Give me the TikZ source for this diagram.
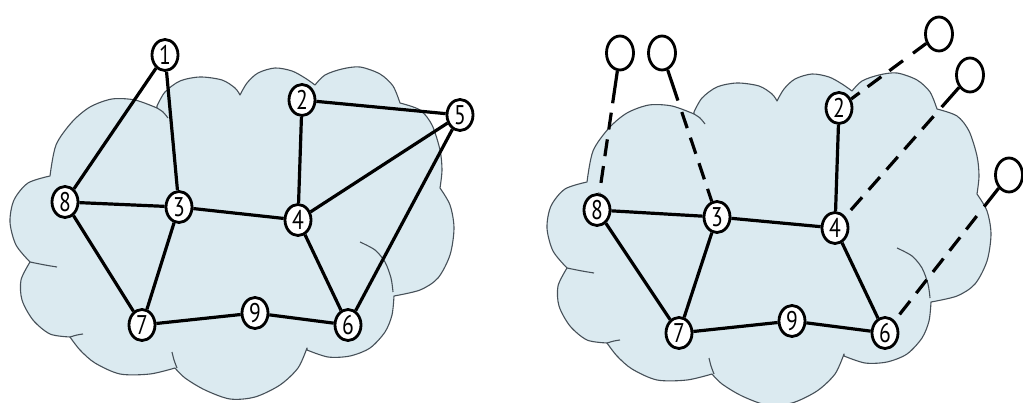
\documentclass[tikz,border=0pt]{standalone}
\usepackage{fontspec}
\newfontfamily\nodefont[FakeStretch=0.8]{PT Sans}
\usetikzlibrary{shapes.geometric,calc}
\definecolor{cloudfill}{RGB}{219,234,240}
\definecolor{cloudline}{RGB}{70,80,88}
\tikzset{
  cloudshape/.style={fill=cloudfill,draw=cloudline,line width=1.1pt,line join=round},
  cloudtail/.style={draw=cloudline,line width=1.1pt},
  vertex/.style={ellipse,draw,line width=2.8pt,fill=white,inner sep=0pt,
    minimum width=26pt,minimum height=31pt,font=\nodefont\fontsize{27}{27}\selectfont},
  host/.style={ellipse,draw,line width=2.8pt,fill=white,inner sep=0pt,
    minimum width=27pt,minimum height=34pt},
  edge/.style={line width=3.2pt},
  dashedge/.style={line width=3.2pt,dash pattern=on 17pt off 10pt}
}
\newcommand\mycloud{%
 \filldraw[cloudshape]
    plot[smooth] coordinates {(50,176) (56,145) (72,122) (90,107) (112,99) (135,100) (157,108)}
 -- plot[smooth] coordinates {(157,106) (165,92) (180,81) (200,77) (222,80) (235,88) (240,95)}
 -- plot[smooth] coordinates {(240,95) (247,83) (258,73) (275,68) (292,71) (305,78) (315,85)}
 -- plot[smooth] coordinates {(315,85) (325,75) (342,69) (360,67) (380,74) (393,86) (400,103)}
 -- plot[smooth] coordinates {(400,103) (420,110) (432,125) (440,150) (442,170) (440,188)}
 -- plot[smooth] coordinates {(440,188) (450,205) (454,228) (450,255) (438,278) (420,290) (394,296)}
 -- plot[smooth] coordinates {(394,296) (392,315) (385,332) (370,348) (350,356) (328,357) (307,350)}
 -- plot[smooth] coordinates {(307,348) (298,368) (280,385) (255,397) (230,399) (205,390) (185,378) (175,368)}
 -- plot[smooth] coordinates {(175,368) (150,374) (120,374) (95,363) (80,350) (70,337)}
 -- plot[smooth] coordinates {(70,337) (50,334) (33,320) (22,300) (21,280) (30,262)}
 -- plot[smooth] coordinates {(30,262) (16,245) (10,222) (14,200) (28,183) (50,176)}
 -- cycle;
 \draw[cloudtail] plot[smooth] coordinates {(157,108) (163,112) (168,118)};
 \draw[cloudtail] plot[smooth] coordinates {(30,262) (45,265) (57,267)};
 \draw[cloudtail] plot[smooth] coordinates {(70,337) (77,335) (83,334)};
 \draw[cloudtail] plot[smooth] coordinates {(172,352) (174,360) (177,368)};
 \draw[cloudtail] plot[smooth] coordinates {(360,242) (375,250) (385,262) (391,278) (393,292)};
}
\begin{document}
\begin{tikzpicture}[x=1pt,y=-1pt]
\useasboundingbox (0,0) rectangle (1023,403);
% left cloud
\mycloud
% right cloud
\begin{scope}[shift={(537,6)}]
\mycloud
\end{scope}
% left graph
\node[vertex] (n1) at (165,55) {1};
\node[vertex] (n2) at (302,100) {2};
\node[vertex] (n5) at (460,115) {5};
\node[vertex] (n8) at (65,202) {8};
\node[vertex] (n3) at (179,207) {3};
\node[vertex] (n4) at (298,220) {4};
\node[vertex] (n7) at (142,325) {7};
\node[vertex] (n9) at (255,313) {9};
\node[vertex] (n6) at (348,325) {6};
\draw[edge] (n1) -- (n8);
\draw[edge] (n1) -- (n3);
\draw[edge] (n8) -- (n3);
\draw[edge] (n8) -- (n7);
\draw[edge] (n3) -- (n7);
\draw[edge] (n3) -- (n4);
\draw[edge] (n2) -- (n4);
\draw[edge] (n2) -- (n5);
\draw[edge] (n4) -- (n5);
\draw[edge] (n5) -- (n6);
\draw[edge] (n4) -- (n6);
\draw[edge] (n7) -- (n9);
\draw[edge] (n9) -- (n6);
% right graph
\node[vertex] (r8) at (597,210) {8};
\node[vertex] (r3) at (717,217) {3};
\node[vertex] (r4) at (835,228) {4};
\node[vertex] (r7) at (679,333) {7};
\node[vertex] (r9) at (792,321) {9};
\node[vertex] (r6) at (885,333) {6};
\node[vertex] (r2) at (839,108) {2};
\node[host] (cA) at (620,53) {};
\node[host] (cB) at (662,53) {};
\node[host] (cC) at (939,34) {};
\node[host] (cD) at (970,75) {};
\node[host] (cE) at (1009,175) {};
\draw[edge] (r8) -- (r3);
\draw[edge] (r8) -- (r7);
\draw[edge] (r3) -- (r7);
\draw[edge] (r3) -- (r4);
\draw[edge] (r2) -- (r4);
\draw[edge] (r4) -- (r6);
\draw[edge] (r7) -- (r9);
\draw[edge] (r9) -- (r6);
% host links
\coordinate (sA) at ($(cA)!0.32!(r8)$);
\coordinate (dA) at ($(cA)!0.38!(r8)$);
\coordinate (sB) at ($(cB)!0.29!(r3)$);
\coordinate (dB) at ($(cB)!0.36!(r3)$);
\coordinate (sC) at ($(cC)!0.26!(r2)$);
\coordinate (dC) at ($(cC)!0.36!(r2)$);
\coordinate (sD) at ($(cD)!0.21!(r4)$);
\coordinate (dD) at ($(cD)!0.27!(r4)$);
\coordinate (sE) at ($(cE)!0.20!(r6)$);
\coordinate (dE) at ($(cE)!0.26!(r6)$);
\draw[edge] (cA) -- (sA);
\draw[dashedge] (dA) -- (r8);
\draw[edge] (cB) -- (sB);
\draw[dashedge] (dB) -- (r3);
\draw[edge] (cC) -- (sC);
\draw[dashedge] (dC) -- (r2);
\draw[edge] (cD) -- (sD);
\draw[dashedge] (dD) -- (r4);
\draw[edge] (cE) -- (sE);
\draw[dashedge] (dE) -- (r6);
\end{tikzpicture}
\end{document}
